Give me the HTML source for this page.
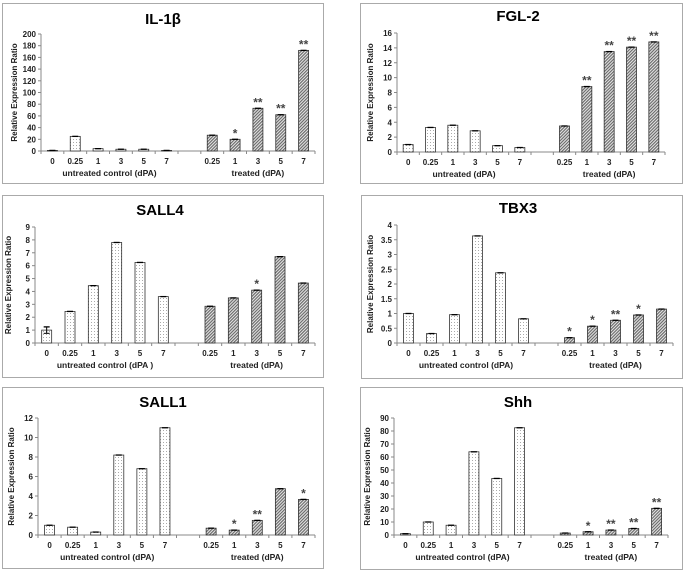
<!DOCTYPE html>
<html><head><meta charset="utf-8"><style>
body{margin:0;background:#fff;}
svg{display:block;font-family:"Liberation Sans",Arial,sans-serif;}
</style></head><body>
<svg id="fig" width="683" height="573" viewBox="0 0 683 573" xmlns="http://www.w3.org/2000/svg">
<defs>
<pattern id="dots" width="3" height="3" patternUnits="userSpaceOnUse"><rect width="3" height="3" fill="#fff"/><rect x="1" y="1" width="1" height="1" fill="#aaa"/></pattern>
<pattern id="hatch" width="2.2" height="2.2" patternUnits="userSpaceOnUse" patternTransform="rotate(45)"><rect width="2.2" height="2.2" fill="#e6e6e6"/><rect width="1.1" height="2.2" fill="#666"/></pattern>
</defs>
</svg>
<script>
const cats=["0","0.25","1","3","5","7"];
const tcats=["0.25","1","3","5","7"];
const il1bU=[1,25,4,3,3,1];
const il1bT=[27,20,73,62,172];
const il1bS=["","*","**","**","**"];
const il1bTicks=[0,20,40,60,80,100,120,140,160,180,200];
const fglU=[1,3.3,3.6,2.85,0.85,0.6];
const fglT=[3.5,8.8,13.5,14.1,14.8];
const fglS=["","**","**","**","**"];
const fglTicks=[0,2,4,6,8,10,12,14,16];
const sall4U=[1,2.45,4.45,7.8,6.25,3.6];
const sall4T=[2.85,3.5,4.1,6.7,4.65];
const sall4S=["","","*","",""];
const sall4Ticks=[0,1,2,3,4,5,6,7,8,9];
const tbx3U=[1,0.32,0.96,3.63,2.38,0.82];
const tbx3T=[0.18,0.57,0.77,0.95,1.15];
const tbx3S=["*","*","**","*",""];
const tbx3Ticks=[0,0.5,1,1.5,2,2.5,3,3.5,4];
const sall1U=[1,0.8,0.3,8.2,6.8,11];
const sall1T=[0.7,0.5,1.5,4.75,3.65];
const sall1S=["","*","**","","*"];
const sall1Ticks=[0,2,4,6,8,10,12];
const shhU=[1,10,7.5,64,43.5,82.5];
const shhT=[1.5,2.5,3.8,5,20.5];
const shhS=["","*","**","**","**"];
const shhTicks=[0,10,20,30,40,50,60,70,80,90];

const NS="http://www.w3.org/2000/svg";
const svg=document.getElementById('fig');
function mk(tag,attrs,parent){const e=document.createElementNS(NS,tag);for(const k in attrs)e.setAttribute(k,attrs[k]);(parent||svg).appendChild(e);return e;}

const panels=[
 {id:"il-1b",title:"IL-1β",u:il1bU,t:il1bT,s:il1bS,ticks:il1bTicks,ulab:"untreated control (dPA)",box:[2,3,321,180],ax:41,top:34,base:151,right:315,ty:24,tx:163},
 {id:"fgl-2",title:"FGL-2",u:fglU,t:fglT,s:fglS,ticks:fglTicks,ulab:"untreated (dPA)",box:[360,3,322,180],ax:397,top:33,base:152,right:665,ty:21,tx:518},
 {id:"sall4",title:"SALL4",u:sall4U,t:sall4T,s:sall4S,ticks:sall4Ticks,ulab:"untreated control (dPA )",box:[2,195,321,182],ax:35,top:227,base:343,right:315,ty:215,tx:160,err0:0.25},
 {id:"tbx3",title:"TBX3",u:tbx3U,t:tbx3T,s:tbx3S,ticks:tbx3Ticks,ulab:"untreated control (dPA)",box:[361,195,321,183],ax:397,top:225,base:343,right:673,ty:213,tx:518},
 {id:"sall1",title:"SALL1",u:sall1U,t:sall1T,s:sall1S,ticks:sall1Ticks,ulab:"untreated control (dPA)",box:[2,387,321,181],ax:38,top:418,base:535,right:315,ty:407,tx:163},
 {id:"shh",title:"Shh",u:shhU,t:shhT,s:shhS,ticks:shhTicks,ulab:"untreated control (dPA)",box:[360,387,322,182],ax:394,top:418,base:535,right:668,ty:407,tx:518}
];

panels.forEach(p=>{
 const g=mk('g',{});
 
 
 const b=mk('rect',{x:p.box[0]+0.5,y:p.box[1]+0.5,width:p.box[2],height:p.box[3],fill:'#fff',stroke:'#aaa','stroke-width':1},g);
 
 
 const tt=mk('text',{x:p.tx,y:p.ty,'text-anchor':'middle','font-size':15,'font-weight':'bold',fill:'#000'},g);
 tt.textContent=p.title;
 
 
 const maxV=p.ticks[p.ticks.length-1];
 const yS=v=>p.base-(v/maxV)*(p.base-p.top);
 const slot=(p.right-p.ax)/12;
 const xS=i=>p.ax+slot*(i+0.5);
 const ya=mk('line',{x1:p.ax,y1:p.top,x2:p.ax,y2:p.base,stroke:'#888'},g);
 
 
 p.ticks.forEach(v=>{
  const y=yS(v);
  mk('line',{x1:p.ax-3,y1:y,x2:p.ax,y2:y,stroke:'#888'},g);
  const tl=mk('text',{x:p.ax-5,y:y+3,'text-anchor':'end','font-size':8,'font-weight':'bold',fill:'#222'},g);
  tl.textContent=String(v);
  
  
 });
 const xa=mk('line',{x1:p.ax,y1:p.base,x2:p.right,y2:p.base,stroke:'#888'},g);
 
 
 for(let i=0;i<=12;i++){mk('line',{x1:p.ax+slot*i,y1:p.base,x2:p.ax+slot*i,y2:p.base+3,stroke:'#888'},g);}
 const yt=mk('text',{x:0,y:0,transform:`translate(${p.ax-24},${(p.top+p.base)/2}) rotate(-90)`,'text-anchor':'middle','font-size':8,'font-weight':'bold',fill:'#222'},g);
 yt.textContent="Relative Expression Ratio";
 
 
 const bw=10;
 function bar(i,v,fill,star,lab,err){
  const x=xS(i),y=yS(v);
  const r=mk('rect',{x:x-bw/2,y:y,width:bw,height:p.base-y,fill:fill,stroke:'#333','stroke-width':0.8},g);
  
  
  const e=err||0;
  const ey=yS(v+e),ey2=yS(Math.max(0,v-e));
  mk('line',{x1:x,y1:ey,x2:x,y2:ey2,stroke:'#000'},g);
  mk('line',{x1:x-3,y1:ey,x2:x+3,y2:ey,stroke:'#000','stroke-width':1.3},g);
  if(e)mk('line',{x1:x-3,y1:ey2,x2:x+3,y2:ey2,stroke:'#000'},g);
  if(star){const st=mk('text',{x:x,y:y-2,'text-anchor':'middle','font-size':12,'font-weight':'bold',fill:'#444'},g);st.textContent=star;
   
   }
  const cl=mk('text',{x:x,y:p.base+13,'text-anchor':'middle','font-size':8,'font-weight':'bold',fill:'#222'},g);
  cl.textContent=lab;
  
  
 }
 p.u.forEach((v,i)=>bar(i,v,'url(#dots)','',cats[i],i===0?(p.err0||0):0));
 p.t.forEach((v,i)=>bar(i+7,v,'url(#hatch)',p.s[i],tcats[i],0));
 const g1=mk('text',{x:(xS(0)+xS(5))/2,y:p.base+25,'text-anchor':'middle','font-size':8.5,'font-weight':'bold',fill:'#222'},g);
 g1.textContent=p.ulab;
 
 
 const g2=mk('text',{x:xS(9),y:p.base+25,'text-anchor':'middle','font-size':8.5,'font-weight':'bold',fill:'#222'},g);
 g2.textContent="treated (dPA)";
 
 
});
</script>
</body></html>
